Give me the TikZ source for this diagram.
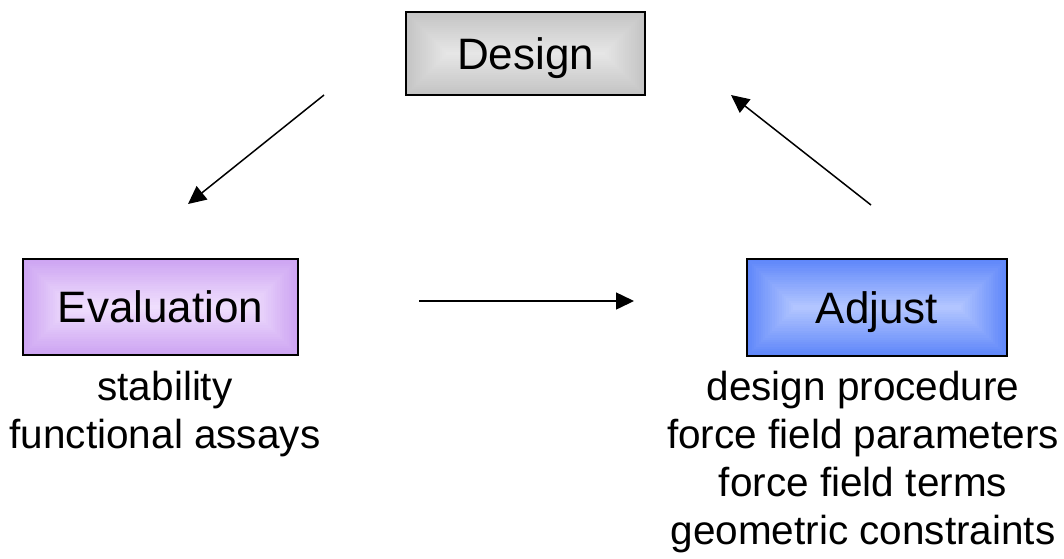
\documentclass[tikz,border=0pt]{standalone}
\usepackage{fontspec}
\setmainfont{Liberation Sans}
\usetikzlibrary{arrows.meta,calc}
\definecolor{grayout}{HTML}{C4C4C4}
\definecolor{grayin}{HTML}{E6E6E6}
\definecolor{purpout}{HTML}{CDA4F2}
\definecolor{purpin}{HTML}{EFDEFD}
\definecolor{blueout}{HTML}{5F87FA}
\definecolor{bluein}{HTML}{B2C5FF}
\tikzset{
  bevelbox/.style n args={4}{draw=black, line width=1.2pt, rectangle,
    minimum width=#1, minimum height=#2, inner sep=0pt,
    text height=31.5pt, text depth=0pt,
    font=\fontsize{44}{52}\selectfont,
    path picture={
      \foreach \i in {0,...,20}{
        \pgfmathsetmacro{\p}{\i*5}
        \pgfmathsetmacro{\d}{\i*#2/42}
        \fill[#4!\p!#3]
          ($(path picture bounding box.south west)+(\d pt,\d pt)$)
          rectangle
          ($(path picture bounding box.north east)+(-\d pt,-\d pt)$);
      }
    }},
  sublabel/.style={align=center, anchor=base,
    font=\fontsize{40.5}{48}\selectfont},
  flow/.style={line width=1.5pt, -{Triangle[length=18pt,width=17pt]}}
}
\begin{document}
\begin{tikzpicture}[x=1pt,y=-1pt]
\useasboundingbox (0,0) rectangle (1064,558);
\node[bevelbox={239pt}{83pt}{grayout}{grayin}] (design) at (525.5,53.5) {Design};
\node[bevelbox={275pt}{96pt}{purpout}{purpin}] (eval) at (160.5,307) {Evaluation};
\node[bevelbox={260pt}{97pt}{blueout}{bluein}] (adjust) at (877,307.5) {Adjust};
\node[sublabel] (evallab) at (165,448) {stability\\functional assays};
\node[sublabel] (adjlab) at (863,544) {design procedure\\force field parameters\\force field terms\\geometric constraints};
\coordinate (a1s) at (324,95);
\coordinate (a1e) at (188,204);
\coordinate (a2s) at (871,205);
\coordinate (a2e) at (731,95);
\coordinate (a3s) at (419,301);
\coordinate (a3e) at (634,301);
\draw[flow] (a1s) -- (a1e);
\draw[flow] (a2s) -- (a2e);
\draw[flow] (a3s) -- (a3e);
\end{tikzpicture}
\end{document}
